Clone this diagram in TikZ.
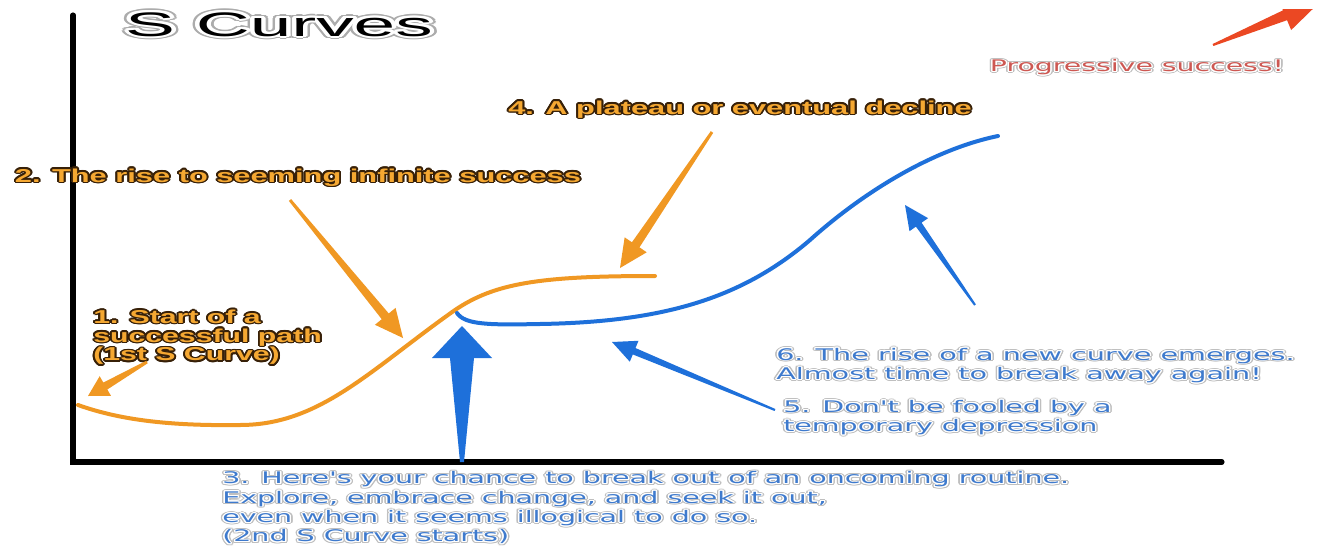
\documentclass[tikz,border=0pt]{standalone}
\usepackage{fontspec}
\usepackage{graphicx}
\usepackage{contour}
\usetikzlibrary{calc}
\newfontfamily\lsans{Liberation Sans}
\newfontfamily\dsans{DejaVu Sans}
\definecolor{ocurve}{RGB}{240,152,35}
\definecolor{otext}{RGB}{245,168,50}
\definecolor{obord}{RGB}{55,32,8}
\definecolor{bcurve}{RGB}{30,112,218}
\definecolor{btext}{RGB}{62,122,205}
\definecolor{rarrow}{RGB}{235,72,35}
\definecolor{ptext}{RGB}{205,88,82}
\newcommand\oc[1]{\contourlength{0.9pt}\contour{obord}{#1}}
\newcommand\bc[1]{\contourlength{1.2pt}\rlap{\contour{gray!50}{#1}}\contourlength{0.55pt}\contour{white}{#1}}
\newcommand\tc[1]{\contourlength{2.4pt}\rlap{\contour{gray!65}{#1}}\contourlength{1.5pt}\contour{white}{#1}}
\newcommand\sx[2]{\scalebox{#1}[1]{\begin{tabular}{@{}l@{}}#2\end{tabular}}}
\newcommand\tarrow[7]{%
  \coordinate (hb) at ($(#2)!#6!(#1)$);
  \fill[#7] ($(#1)!#3!90:(#2)$) -- ($(hb)!#4!90:(#2)$) -- ($(hb)!#5!90:(#2)$) -- (#2)
    -- ($(hb)!#5!-90:(#2)$) -- ($(hb)!#4!-90:(#2)$) -- ($(#1)!#3!-90:(#2)$) -- cycle;}
\begin{document}
\begin{tikzpicture}[x=0.75pt,y=-0.75pt,
  axis/.style={line width=3.8pt,black,line cap=round,line join=miter},
  ocurvestyle/.style={line width=3pt,ocurve,line cap=round},
  bcurvestyle/.style={line width=3pt,bcurve,line cap=round},
  olabel/.style={inner sep=0pt,text=otext,font=\lsans\bfseries\fontsize{14}{13.5}\selectfont},
  blabel/.style={inner sep=0pt,text=btext,font=\dsans\fontsize{12}{14.5}\selectfont},
  plabel/.style={inner sep=0pt,text=ptext,font=\dsans\fontsize{12}{14.5}\selectfont},
  titlestyle/.style={inner sep=0pt,text=black,font=\lsans\fontsize{25.5}{30}\selectfont}]
\fill[white] (0,0) rectangle (1342,546);
\useasboundingbox (0,0) rectangle (1342,546);

% axes
\coordinate (ytop) at (73,15);
\coordinate (orig) at (73,462);
\coordinate (xend) at (1222,462);
\draw[axis] (ytop) -- (orig) -- (xend);

% curves
\coordinate (o0) at (78,405);
\coordinate (o1) at (240,425);
\coordinate (o2) at (455,310);
\coordinate (o3) at (655,276);
\draw[ocurvestyle] (o0) .. controls (120,420) and (170,426) .. (o1)
  .. controls (320,425) and (370,370) .. (o2)
  .. controls (495,283) and (540,276) .. (o3);
\coordinate (b0) at (457,313);
\coordinate (b1) at (540,324);
\coordinate (b2) at (810,240);
\coordinate (b3) at (998,136);
\draw[bcurvestyle] (b0) .. controls (465,325) and (490,325) .. (b1)
  .. controls (660,322) and (740,300) .. (b2)
  .. controls (860,195) and (930,150) .. (b3);

% title
\node[titlestyle] (title) at (279,28) {\sx{2.2}{\tc{S Curves}}};

% labels
\node[olabel,anchor=west] (l1) at (93,338) {\sx{1.62}{\oc{1. Start of a}\\ \oc{successful path}\\ \oc{(1st S Curve)}}};
\node[olabel] (l2) at (298,178) {\sx{1.65}{\oc{2. The rise to seeming infinite success}}};
\node[olabel] (l4) at (740,110) {\sx{1.65}{\oc{4. A plateau or eventual decline}}};
\node[plabel] (lp) at (1137,68) {\sx{1.77}{\bc{Progressive success!}}};
\node[blabel,anchor=west] (l6) at (776,366) {\sx{1.79}{\bc{6. The rise of a new curve emerges.}\\ \bc{Almost time to break away again!}}};
\node[blabel,anchor=west] (l5) at (783,418) {\sx{1.78}{\bc{5. Don't be fooled by a}\\ \bc{temporary depression}}};
\node[blabel,anchor=west] (l3) at (222,509) {\sx{1.78}{\bc{3. Here's your chance to break out of an oncoming routine.}\\ \bc{Explore, embrace change, and seek it out,}\\ \bc{even when it seems illogical to do so.}\\ \bc{(2nd S Curve starts)}}};

% arrows
\coordinate (a1t) at (147,362); \coordinate (a1h) at (88,396);
\tarrow{a1t}{a1h}{1.1pt}{3pt}{8.5pt}{15pt}{ocurve}
\coordinate (a2t) at (290,200); \coordinate (a2h) at (403,338);
\tarrow{a2t}{a2h}{1.1pt}{3.4pt}{10pt}{21pt}{ocurve}
\coordinate (a4t) at (712,132); \coordinate (a4h) at (620,268);
\tarrow{a4t}{a4h}{1.1pt}{3.4pt}{10pt}{21pt}{ocurve}
\coordinate (a3t) at (462,462); \coordinate (a3h) at (462,326);
\tarrow{a3t}{a3h}{1.5pt}{9pt}{22.5pt}{24pt}{bcurve}
\coordinate (a5t) at (775,410); \coordinate (a5h) at (612,342);
\tarrow{a5t}{a5h}{0.8pt}{2.6pt}{8.5pt}{18pt}{bcurve}
\coordinate (a6t) at (975,305); \coordinate (a6h) at (905,205);
\tarrow{a6t}{a6h}{0.8pt}{2.6pt}{8.5pt}{18pt}{bcurve}
\begin{scope}
\clip (0,9) rectangle (1342,546);
\coordinate (art) at (1213,45); \coordinate (arh) at (1322,0);
\tarrow{art}{arh}{0.8pt}{4pt}{12pt}{30pt}{rarrow}
\end{scope}
\end{tikzpicture}
\end{document}
